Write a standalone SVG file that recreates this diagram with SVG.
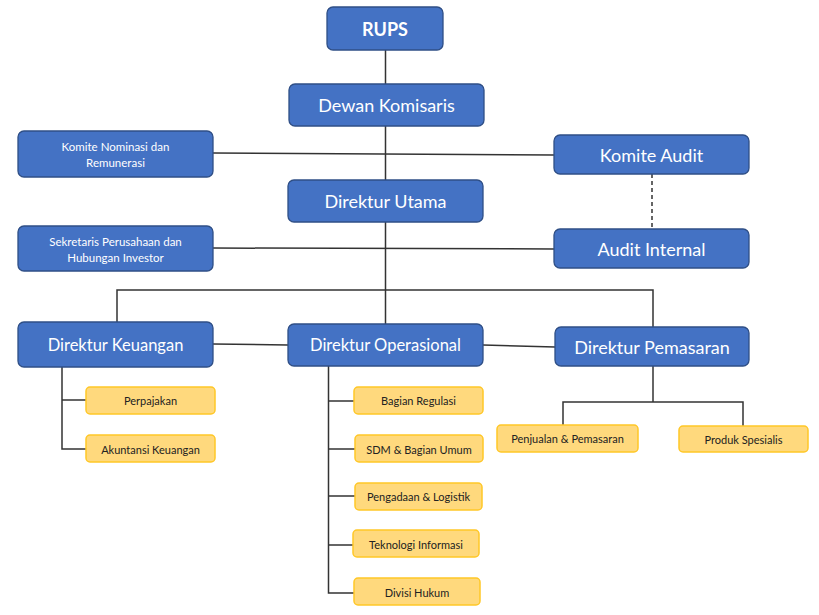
<svg xmlns="http://www.w3.org/2000/svg" width="819" height="615" viewBox="0 0 819 615">
<style>
.b{fill:#4472C4;stroke:#2F4F86;stroke-width:1.3}
.y{fill:#FFD97D;stroke:#FFC727;stroke-width:1.5}
.tb{font-family:Lato,"Open Sans",sans-serif;fill:#FFFFFF;text-anchor:middle;dominant-baseline:central}
.ty{font-family:Lato,"Open Sans",sans-serif;fill:#222222;text-anchor:middle;dominant-baseline:central;font-size:11px}
.c line,.c polyline{stroke:#333333;stroke-width:1.5;fill:none}
</style>
<rect width="819" height="615" fill="#FFFFFF"/>
<g class="c" id="connectors">
<line x1="385.5" y1="50" x2="385.5" y2="324"/>
<line x1="213" y1="153" x2="554" y2="155"/>
<line x1="652" y1="174" x2="652" y2="229" stroke-dasharray="4,3"/>
<line x1="213" y1="248" x2="554" y2="249"/>
<polyline points="117,322 117,290 653,290 653,327"/>
<line x1="213" y1="344" x2="288" y2="345"/>
<line x1="483" y1="345" x2="555" y2="347"/>
<polyline points="62,367 62,449 86,449"/>
<line x1="62" y1="400" x2="86" y2="400"/>
<polyline points="328.5,366 328.5,593 354,593"/>
<line x1="328.5" y1="401" x2="354" y2="401"/>
<line x1="328.5" y1="449" x2="355" y2="449"/>
<line x1="328.5" y1="496" x2="355" y2="496"/>
<line x1="328.5" y1="545" x2="353" y2="545"/>
<line x1="653" y1="366" x2="653" y2="402"/>
<polyline points="563,425 563,402 743,402 743,426"/>
</g>
<g id="rups"><rect class="b" x="327" y="7" width="116" height="43" rx="6"/><text class="tb" x="385" y="29" font-size="18" font-weight="bold">RUPS</text></g>
<g id="dewan"><rect class="b" x="289" y="84" width="195" height="42" rx="6"/><text class="tb" x="386.5" y="105" font-size="18">Dewan Komisaris</text></g>
<g id="komite-nominasi"><rect class="b" x="18" y="131" width="195" height="46" rx="6"/><text class="tb" x="115.5" y="146" font-size="11.5">Komite Nominasi dan</text><text class="tb" x="115.5" y="162" font-size="11.5">Remunerasi</text></g>
<g id="komite-audit"><rect class="b" x="554" y="135" width="195" height="39" rx="6"/><text class="tb" x="651.5" y="155" font-size="18">Komite Audit</text></g>
<g id="dirut"><rect class="b" x="288" y="180" width="195" height="42" rx="6"/><text class="tb" x="385.5" y="201" font-size="18">Direktur Utama</text></g>
<g id="sekretaris"><rect class="b" x="18" y="226" width="195" height="45" rx="6"/><text class="tb" x="115.5" y="241" font-size="11.5">Sekretaris Perusahaan dan</text><text class="tb" x="115.5" y="257" font-size="11.5">Hubungan Investor</text></g>
<g id="audit-internal"><rect class="b" x="554" y="229" width="195" height="39" rx="6"/><text class="tb" x="651.5" y="249" font-size="18">Audit Internal</text></g>
<g id="dir-keuangan"><rect class="b" x="18" y="322" width="195" height="45" rx="6"/><text class="tb" x="115.5" y="345" font-size="16.5">Direktur Keuangan</text></g>
<g id="dir-operasional"><rect class="b" x="288" y="324" width="195" height="42" rx="6"/><text class="tb" x="385.5" y="345" font-size="16.5">Direktur Operasional</text></g>
<g id="dir-pemasaran"><rect class="b" x="555" y="327" width="194" height="39" rx="6"/><text class="tb" x="652" y="347" font-size="18">Direktur Pemasaran</text></g>
<g id="perpajakan"><rect class="y" x="86" y="387" width="129" height="27" rx="4"/><text class="ty" x="150.5" y="400.5">Perpajakan</text></g>
<g id="akuntansi"><rect class="y" x="86" y="435" width="129" height="27" rx="4"/><text class="ty" x="150.5" y="449">Akuntansi Keuangan</text></g>
<g id="regulasi"><rect class="y" x="354" y="387" width="129" height="27" rx="4"/><text class="ty" x="418.5" y="400.5">Bagian Regulasi</text></g>
<g id="sdm"><rect class="y" x="355" y="435" width="128" height="27" rx="4"/><text class="ty" x="419" y="449" font-size="10">SDM &amp; Bagian Umum</text></g>
<g id="pengadaan"><rect class="y" x="355" y="483" width="127" height="27" rx="4"/><text class="ty" x="418.5" y="496.5" font-size="9">Pengadaan &amp; Logistik</text></g>
<g id="teknologi"><rect class="y" x="353" y="530" width="126" height="27" rx="4"/><text class="ty" x="416" y="544">Teknologi Informasi</text></g>
<g id="hukum"><rect class="y" x="354" y="578" width="126" height="27" rx="4"/><text class="ty" x="417" y="592">Divisi Hukum</text></g>
<g id="penjualan"><rect class="y" x="497" y="425" width="141" height="27" rx="4"/><text class="ty" x="567.5" y="438.5" font-size="10">Penjualan &amp; Pemasaran</text></g>
<g id="produk"><rect class="y" x="679" y="426" width="129" height="26" rx="4"/><text class="ty" x="743.5" y="439">Produk Spesialis</text></g>
</svg>
